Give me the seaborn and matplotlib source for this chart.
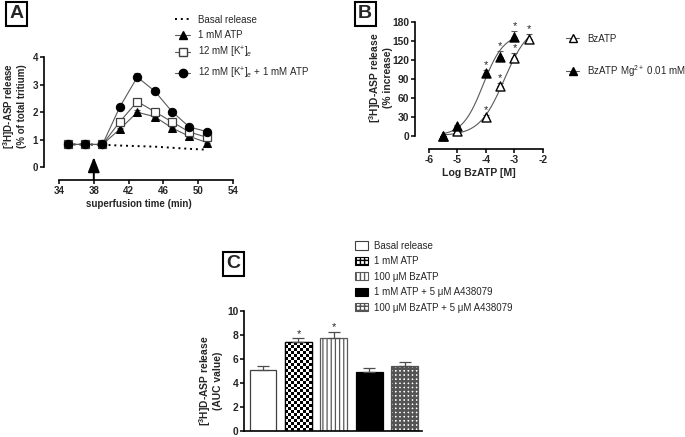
import numpy as np
import pandas as pd
import matplotlib
matplotlib.use("Agg")
import matplotlib.pyplot as plt
import matplotlib.patches as mpatches
from matplotlib.lines import Line2D
import seaborn as sns

sns.set_style("ticks")
plt.rcParams['font.family'] = ['Liberation Sans', 'DejaVu Sans']
plt.rcParams['mathtext.fontset'] = 'custom'
plt.rcParams['mathtext.rm'] = 'Liberation Sans'
plt.rcParams['mathtext.bf'] = 'Liberation Sans:bold'
plt.rcParams['mathtext.it'] = 'Liberation Sans:italic'
plt.rcParams['axes.unicode_minus'] = False
plt.rcParams['hatch.linewidth'] = 1.0

# ---------------- Panel A data ----------------
time_min = [35, 37, 39, 41, 43, 45, 47, 49, 51]
basal = [0.82, 0.82, 0.81, 0.78, 0.76, 0.74, 0.70, 0.66, 0.63]
atp = [0.82, 0.82, 0.82, 1.38, 1.99, 1.83, 1.42, 1.11, 0.89]
atp_err = [0.03, 0.03, 0.03, 0.05, 0.08, 0.06, 0.05, 0.04, 0.04]
kplus = [0.82, 0.82, 0.82, 1.65, 2.38, 2.01, 1.64, 1.27, 1.08]
kplus_err = [0.03, 0.03, 0.03, 0.06, 0.10, 0.06, 0.05, 0.04, 0.04]
kplus_atp = [0.82, 0.82, 0.82, 2.19, 3.27, 2.76, 2.01, 1.45, 1.29]
kplus_atp_err = [0.03, 0.03, 0.03, 0.05, 0.15, 0.08, 0.05, 0.05, 0.05]
a_xticks = [34, 38, 42, 46, 50, 54]
a_yticks = [0, 1, 2, 3, 4]

# ---------------- Panel B data ----------------
log_conc = [-5.5, -5.0, -4.0, -3.5, -3.0, -2.5]
bz = [0, 7, 30, 79, 124, 153]
bz_err = [0, 2, 3, 4, 7, 8]
bz_star = [False, False, True, True, True, True]
log_conc_mg = [-5.5, -5.0, -4.0, -3.5, -3.0]
bz_mg = [0, 15, 99, 125, 157]
bz_mg_err = [0, 2, 5, 9, 9]
bz_mg_star = [False, False, True, True, True]
# sigmoid fit parameters (top, logEC50, Hill slope)
bz_fit = (178, -3.36, 1.0)
bz_mg_fit = (162, -4.1, 1.2)
b_xticks = [-6, -5, -4, -3, -2]
b_yticks = [0, 30, 60, 90, 120, 150, 180]

# ---------------- Panel C data ----------------
c_labels = ["Basal release", "1 mM ATP", "100 μM BzATP",
            "1 mM ATP + 5 μM A438079", "100 μM BzATP + 5 μM A438079"]
c_values = [5.12, 7.42, 7.78, 4.93, 5.43]
c_err = [0.31, 0.36, 0.52, 0.33, 0.33]
c_star = [False, True, True, False, False]
c_yticks = [0, 2, 4, 6, 8, 10]

W, H = 685, 437
fig = plt.figure(figsize=(W / 100, H / 100), dpi=100)


def px_axes(left, top, right, bottom):
    return fig.add_axes([left / W, 1 - bottom / H, (right - left) / W, (bottom - top) / H])


LINEC = '0.35'

# ================= Panel A =================
axA = px_axes(44, 55, 233, 180)
axA.set_xlim(32.276, 54)
axA.set_ylim(-0.4727, 4.073)
sns.lineplot(x=time_min, y=basal, ax=axA, color='black', linestyle=(0, (1, 2.0)),
             linewidth=1.4)
sns.lineplot(x=time_min, y=atp, ax=axA, color=LINEC, linewidth=0.8, marker='^',
             markersize=5.5, markerfacecolor='black', markeredgecolor='black', zorder=3)
sns.lineplot(x=time_min, y=kplus, ax=axA, color=LINEC, linewidth=0.8, marker='s',
             markersize=6, markerfacecolor='white', markeredgecolor='0.25', markeredgewidth=0.9,
             zorder=4)
sns.lineplot(x=time_min, y=kplus_atp, ax=axA, color=LINEC, linewidth=0.8, marker='o',
             markersize=6, markerfacecolor='black', markeredgecolor='black', zorder=5)
for ys, es in [(atp, atp_err), (kplus, kplus_err), (kplus_atp, kplus_atp_err)]:
    axA.errorbar(time_min, ys, yerr=[np.zeros(len(es)), es], fmt='none', ecolor=LINEC,
                 elinewidth=0.8, capsize=2.5, capthick=0.8, zorder=2)
axA.annotate('', xy=(38, 0.36), xytext=(38, -0.4727),
             arrowprops=dict(arrowstyle='-|>,head_length=0.9,head_width=0.35', color='black',
                             lw=1.4, shrinkA=0, shrinkB=0, mutation_scale=10))
axA.set_xticks(a_xticks)
axA.set_yticks(a_yticks)
axA.spines['left'].set_bounds(0, 4)
axA.spines['bottom'].set_bounds(34, 54)
axA.set_xlabel('superfusion time (min)', fontsize=7, fontweight='bold', labelpad=2)
axA.set_ylabel('[$^{\\mathbf{3}}$H]D-ASP release\n(% of total tritium)', fontsize=7,
               fontweight='bold', linespacing=1.0)
axA.yaxis.set_label_coords(-0.088, 0.59)

hA = [Line2D([], [], color='black', linestyle=(0, (1, 2.0)), linewidth=1.4),
      Line2D([], [], color=LINEC, lw=0.8, marker='^', ms=5.5, mfc='black', mec='black'),
      Line2D([], [], color=LINEC, lw=0.8, marker='s', ms=6, mfc='white', mec='0.25'),
      Line2D([], [], color=LINEC, lw=0.8, marker='o', ms=6, mfc='black', mec='black')]
lA = ["Basal release", "1 mM ATP", "12 mM [K$^{+}$]$_{e}$", "12 mM [K$^{+}$]$_{e}$ + 1 mM ATP"]
fig.legend(hA, lA, loc='upper left', bbox_to_anchor=(170 / W, 1 - 10 / H), frameon=False,
           fontsize=7, handlelength=1.6, handletextpad=0.8, labelspacing=0.52, borderpad=0)

# ================= Panel B =================
axB = px_axes(415, 20, 543, 149)
axB.set_xlim(-6.491, -2)
axB.set_ylim(-21.1, 183.65)


def hill(x, p):
    top, ec, n = p
    return top / (1 + 10 ** ((ec - x) * n))


xf1 = np.linspace(log_conc[0], log_conc[-1], 200)
xf2 = np.linspace(log_conc_mg[0], log_conc_mg[-1], 200)
sns.lineplot(x=xf1, y=hill(xf1, bz_fit), ax=axB, color=LINEC, lw=0.8, zorder=2)
sns.lineplot(x=xf2, y=hill(xf2, bz_mg_fit), ax=axB, color=LINEC, lw=0.8, zorder=2)
axB.errorbar(log_conc, bz, yerr=[np.zeros(len(bz_err)), bz_err], fmt='none', ecolor=LINEC,
             elinewidth=0.8, capsize=2.5, capthick=0.8, zorder=2)
axB.errorbar(log_conc_mg, bz_mg, yerr=[np.zeros(len(bz_mg_err)), bz_mg_err], fmt='none',
             ecolor=LINEC, elinewidth=0.8, capsize=2.5, capthick=0.8, zorder=2)
sns.scatterplot(x=log_conc, y=bz, ax=axB, marker='^', s=42, facecolor='white',
                edgecolor='black', linewidth=1.0, zorder=4)
sns.scatterplot(x=log_conc_mg, y=bz_mg, ax=axB, marker='^', s=42, facecolor='black',
                edgecolor='black', linewidth=1.0, zorder=5)
for xs, ys, es, st in [(log_conc, bz, bz_err, bz_star), (log_conc_mg, bz_mg, bz_mg_err, bz_mg_star)]:
    for xv, yv, ev, sv in zip(xs, ys, es, st):
        if sv:
            axB.text(xv, yv + ev + 8, '*', ha='center', va='center', fontsize=8)
axB.set_xticks(b_xticks)
axB.set_yticks(b_yticks)
axB.spines['left'].set_bounds(0, 180)
axB.spines['bottom'].set_bounds(-6, -2)
axB.set_xlabel('Log BzATP [M]', fontsize=7.6, fontweight='bold', labelpad=2)
axB.set_ylabel('[$^{\\mathbf{3}}$H]D-ASP release\n(% increase)', fontsize=7.4,
               fontweight='bold', linespacing=1.0)
axB.yaxis.set_label_coords(-0.175, 0.55)

hB = [Line2D([], [], color=LINEC, lw=0.8, marker='^', ms=6, mfc='white', mec='black'),
      Line2D([], [], color=LINEC, lw=0.8, marker='^', ms=6, mfc='black', mec='black')]
lB = ["BzATP", "BzATP Mg$^{2+}$ 0.01 mM"]
fig.legend(hB, lB, loc='upper left', bbox_to_anchor=(561 / W, 1 - 29 / H), frameon=False,
           fontsize=7, handlelength=1.4, handletextpad=0.8, labelspacing=1.95, borderpad=0)

# ================= Panel C =================
axC = px_axes(244, 309.5, 422, 431)
axC.set_xlim(-0.535, 4.48)
axC.set_ylim(0, 10.14)
dfC = pd.DataFrame({'cond': c_labels, 'value': c_values})
sns.barplot(data=dfC, x='cond', y='value', ax=axC, color='white', width=0.76,
            errorbar=None, order=c_labels)
axC.set_xlim(-0.535, 4.48)
axC.set_ylim(0, 10.14)
styles = [dict(facecolor='white', edgecolor='0.25', hatch=None, hlw=1.0),
          dict(facecolor='white', edgecolor='black', hatch='++++', hlw=1.5),
          dict(facecolor='white', edgecolor='0.35', hatch='||||', hlw=0.9),
          dict(facecolor='black', edgecolor='black', hatch=None, hlw=1.0),
          dict(facecolor='white', edgecolor='0.33', hatch='++++', hlw=1.8)]


def style_patch(patch, st):
    patch.set_facecolor(st['facecolor'])
    patch.set_edgecolor(st['edgecolor'])
    patch.set_linewidth(0.9)
    if st['hatch']:
        patch.set_hatch(st['hatch'])
        try:
            patch.set_hatch_linewidth(st['hlw'])
        except Exception:
            pass


bars = list(axC.patches)
for i, (patch, st) in enumerate(zip(bars, styles)):
    style_patch(patch, st)

# checkerboard texture for the "1 mM ATP" bar
chk = bars[1]
chk.set_hatch(None)
x0, w, hgt = chk.get_x(), chk.get_width(), chk.get_height()
p0 = axC.transData.transform((x0, 0))
p1 = axC.transData.transform((x0 + w, hgt))
nx = max(1, int(round(abs(p1[0] - p0[0]) / 3.0)))
ny = max(1, int(round(abs(p1[1] - p0[1]) / 3.0)))
board = (np.add.outer(np.arange(ny), np.arange(nx)) % 2).astype(float)
img = axC.imshow(board, cmap='gray', vmin=0, vmax=1, interpolation='nearest', aspect='auto',
                 extent=(x0, x0 + w, 0, hgt), origin='lower', zorder=chk.get_zorder() + 0.1)
img.set_clip_path(chk)
border = mpatches.Rectangle((x0, 0), w, hgt, facecolor='none', edgecolor='black', lw=0.9,
                            zorder=chk.get_zorder() + 0.2)
axC.add_patch(border)
axC.set_xlim(-0.535, 4.48)
axC.set_ylim(0, 10.14)

axC.errorbar(range(len(c_values)), c_values, yerr=[np.zeros(len(c_err)), c_err], fmt='none',
             ecolor='0.3', elinewidth=0.9, capsize=4, capthick=0.9, zorder=3)
for i, (v, e, s) in enumerate(zip(c_values, c_err, c_star)):
    if s:
        axC.text(i, v + e + 0.35, '*', ha='center', va='center', fontsize=8)
axC.set_yticks(c_yticks)
axC.set_xticks([])
axC.set_xlabel('')
axC.spines['left'].set_bounds(0, 10)
axC.set_ylabel('[$^{\\mathbf{3}}$H]D-ASP release\n(AUC value)', fontsize=7.4,
               fontweight='bold', linespacing=1.0)
axC.yaxis.set_label_coords(-0.118, 0.41)

hC = []
for st in styles:
    r = mpatches.Rectangle((0, 0), 1, 1)
    style_patch(r, st)
    r.set_linewidth(0.8)
    hC.append(r)
fig.legend(hC, c_labels, loc='upper left', bbox_to_anchor=(350 / W, 1 - 236 / H), frameon=False,
           fontsize=7, handlelength=1.3, handleheight=0.9, handletextpad=0.7, labelspacing=0.56,
           borderpad=0)

for ax, fs in ((axA, 7), (axB, 7.4), (axC, 7.4)):
    sns.despine(ax=ax)
    for sp in ('left', 'bottom'):
        ax.spines[sp].set_linewidth(1.2)
        ax.spines[sp].set_color('black')
    ax.tick_params(axis='both', labelsize=fs, width=1.1, length=3.0, pad=1.2, color='black')
    for t in ax.get_xticklabels() + ax.get_yticklabels():
        t.set_fontweight('bold')
    if ax.get_legend():
        ax.get_legend().remove()

# panel letters
for letter, (cx, cy) in [('A', (16.5, 13.5)), ('B', (365, 14)), ('C', (233.5, 264))]:
    fig.text(cx / W, 1 - cy / H, letter, fontsize=14, fontweight='bold', ha='center', va='center',
             bbox=dict(boxstyle='square,pad=0.18', facecolor='white', edgecolor='black', linewidth=1.5))

fig.savefig('out.png', dpi=100)
